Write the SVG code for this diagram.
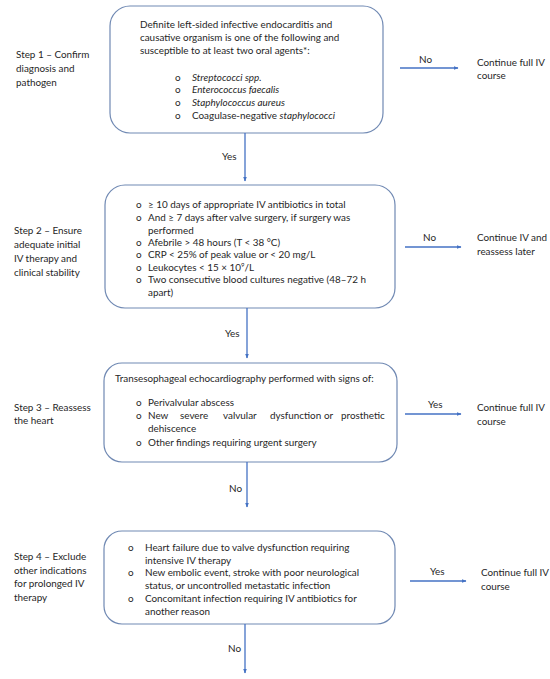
<svg xmlns="http://www.w3.org/2000/svg" width="550" height="679" viewBox="0 0 550 679">
<defs>
<style>
text{font-family:Lato,"Liberation Sans",sans-serif;font-size:9.9px;fill:#262626;}
.it{font-style:italic;}
.box{fill:#ffffff;stroke:#7089b3;stroke-width:1.2;}
.ln{stroke:#4472c4;stroke-width:1.3;fill:none;marker-end:url(#ah);}
</style>
<marker id="ah" viewBox="0 0 10 10" refX="9" refY="5" markerWidth="5" markerHeight="5" orient="auto" markerUnits="userSpaceOnUse">
<path d="M0,1 L10,5 L0,9 Z" fill="#4472c4"/>
</marker>
</defs>
<rect width="550" height="679" fill="#ffffff"/>

<g id="step1-label">
<text x="16" y="57.5">Step 1 – Confirm</text>
<text x="16" y="71.5">diagnosis and</text>
<text x="16" y="85.5">pathogen</text>
</g>
<g id="box1">
<rect class="box" x="110" y="6" width="273" height="127" rx="20"/>
<text x="140" y="27.5">Definite left-sided infective endocarditis and</text>
<text x="140" y="40.5">causative organism is one of the following and</text>
<text x="140" y="53.5">susceptible to at least two oral agents*:</text>
<text x="175" y="80.5">o</text><text x="192" y="80.5" class="it">Streptococci spp.</text>
<text x="175" y="92.5">o</text><text x="192" y="92.5" class="it">Enterococcus faecalis</text>
<text x="175" y="105.5">o</text><text x="192" y="105.5" class="it">Staphylococcus aureus</text>
<text x="175" y="118.5">o</text><text x="192" y="118.5">Coagulase-negative <tspan class="it">staphylococci</tspan></text>
</g>
<g id="out1">
<text x="477" y="65.5">Continue full IV</text>
<text x="477" y="78.5">course</text>
</g>

<g id="step2-label">
<text x="14" y="234">Step 2 – Ensure</text>
<text x="14" y="247.5">adequate initial</text>
<text x="14" y="261.5">IV therapy and</text>
<text x="14" y="275.5">clinical stability</text>
</g>
<g id="box2">
<rect class="box" x="105" y="185" width="290" height="123" rx="20"/>
<text x="136" y="207.5">o</text><text x="148" y="207.5">≥ 10 days of appropriate IV antibiotics in total</text>
<text x="136" y="220.5">o</text><text x="148" y="220.5">And ≥ 7 days after valve surgery, if surgery was</text>
<text x="148" y="233.5">performed</text>
<text x="136" y="245.5">o</text><text x="148" y="245.5">Afebrile &gt; 48 hours (T &lt; 38 °C)</text>
<text x="136" y="257.5">o</text><text x="148" y="257.5">CRP &lt; 25% of peak value or &lt; 20 mg/L</text>
<text x="136" y="270.5">o</text><text x="148" y="270.5">Leukocytes &lt; 15 × 10<tspan font-size="6" dy="-3.5">9</tspan><tspan dy="3.5">/L</tspan></text>
<text x="136" y="282.5">o</text><text x="148" y="282.5">Two consecutive blood cultures negative (48–72 h</text>
<text x="148" y="295.5">apart)</text>
</g>
<g id="out2">
<text x="477" y="240.5">Continue IV and</text>
<text x="477" y="254.5">reassess later</text>
</g>

<g id="step3-label">
<text x="14" y="410.5">Step 3 – Reassess</text>
<text x="14" y="423.5">the heart</text>
</g>
<g id="box3">
<rect class="box" x="104" y="363" width="293" height="99" rx="18"/>
<text x="115" y="381.5">Transesophageal echocardiography performed with signs of:</text>
<text x="136" y="405.5">o</text><text x="148" y="405.5">Perivalvular abscess</text>
<text x="136" y="418.5">o</text>
<text x="148" y="418.5">New</text><text x="180" y="418.5">severe</text><text x="223" y="418.5">valvular</text><text x="270" y="418.5">dysfunction</text><text x="324" y="418.5">or</text><text x="341" y="418.5">prosthetic</text>
<text x="148" y="431.5">dehiscence</text>
<text x="136" y="445.5">o</text><text x="148" y="445.5">Other findings requiring urgent surgery</text>
</g>
<g id="out3">
<text x="477" y="410.5">Continue full IV</text>
<text x="477" y="424.5">course</text>
</g>

<g id="step4-label">
<text x="14" y="559.5">Step 4 – Exclude</text>
<text x="14" y="573.5">other indications</text>
<text x="14" y="587">for prolonged IV</text>
<text x="14" y="601">therapy</text>
</g>
<g id="box4">
<rect class="box" x="104" y="531" width="291" height="93" rx="18"/>
<text x="128" y="550.5">o</text><text x="145" y="550.5">Heart failure due to valve dysfunction requiring</text>
<text x="145" y="563.5">intensive IV therapy</text>
<text x="128" y="575.5">o</text><text x="145" y="575.5">New embolic event, stroke with poor neurological</text>
<text x="145" y="588.5">status, or uncontrolled metastatic infection</text>
<text x="128" y="601.5">o</text><text x="145" y="601.5">Concomitant infection requiring IV antibiotics for</text>
<text x="145" y="614.5">another reason</text>
</g>
<g id="out4">
<text x="481" y="575.5">Continue full IV</text>
<text x="481" y="589.5">course</text>
</g>

<g id="connectors">
<line class="ln" x1="400" y1="68" x2="458" y2="68"/>
<text x="419" y="62.5">No</text>
<line class="ln" x1="245" y1="133" x2="245" y2="181"/>
<text x="222" y="159.5">Yes</text>
<line class="ln" x1="405" y1="247" x2="461" y2="247"/>
<text x="423" y="240.5">No</text>
<line class="ln" x1="247" y1="308" x2="247" y2="358"/>
<text x="225" y="336.5">Yes</text>
<line class="ln" x1="405" y1="414" x2="461" y2="414"/>
<text x="428" y="407.5">Yes</text>
<line class="ln" x1="247" y1="462" x2="247" y2="507"/>
<text x="229" y="491.5">No</text>
<line class="ln" x1="410" y1="581" x2="466" y2="581"/>
<text x="430" y="574.5">Yes</text>
<line class="ln" x1="245" y1="624" x2="245" y2="673"/>
<text x="228" y="651.5">No</text>
</g>
</svg>
